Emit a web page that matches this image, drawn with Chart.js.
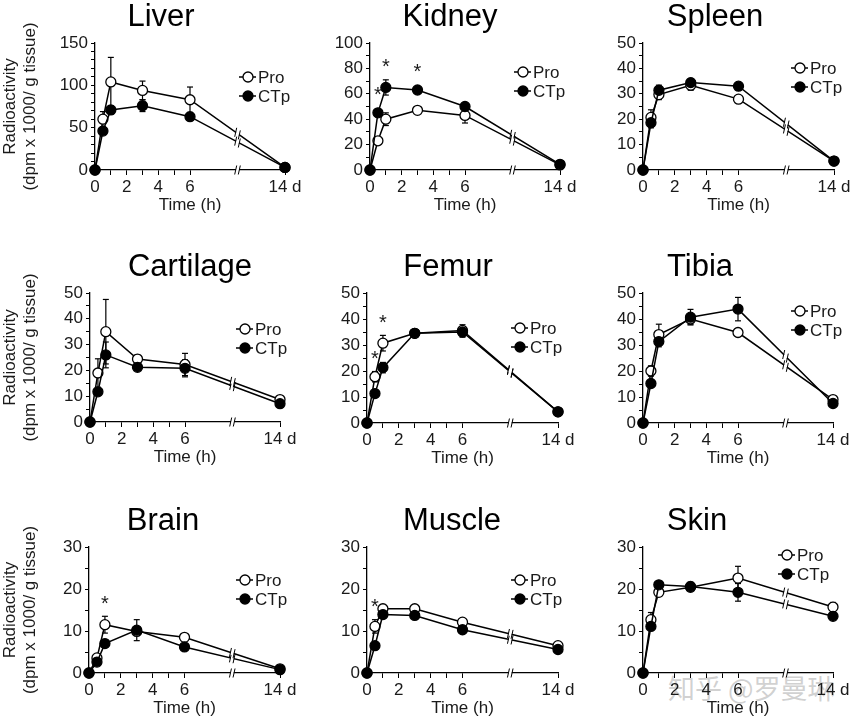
<!DOCTYPE html>
<html>
<head>
<meta charset="utf-8">
<script src="https://cdn.jsdelivr.net/npm/chart.js@4.4.1/dist/chart.umd.min.js"></script>
<style>
  html, body { margin: 0; padding: 0; background: #fff; overflow: hidden; }
  #page { position: relative; width: 850px; height: 720px; overflow: hidden; }
  #page canvas { position: absolute; }
  #wm { position: absolute; left: 668px; top: 668px; font: 27px "Noto Sans CJK SC", sans-serif;
        color: rgba(170, 170, 170, 0.55); white-space: nowrap; }
</style>
</head>
<body>
<div id="page"><div id="wm">知乎 @罗曼琳</div></div>
<script>
// sampling times (h); last slot is the 14 d sample, plotted after the axis break
const times = [0, 0.5, 1, 3, 6, 12];
const xTickValues = [0, 1, 2, 3, 4, 5, 6, 12];
const xTickLabels = ["0", "", "2", "", "4", "", "6", "14 d"];

// radioactivity (dpm x 1000 / g tissue), mean and SD
const liverPro = [0, 60, 104, 94, 83, 3];
const liverProSd = [0, 9, 29, 11, 15, 1];
const liverCTp = [0, 46, 71, 76, 63, 3];
const liverCTpSd = [0, 4, 5, 7, 3, 1];

const kidneyPro = [0, 23, 40, 47, 43, 4];
const kidneyProSd = [0, 2, 5, 2, 6, 1];
const kidneyCTp = [0, 45, 65, 63, 50, 4.5];
const kidneyCTpSd = [0, 3, 6, 2, 2, 1];

const spleenPro = [0, 20.7, 29.7, 33.4, 27.9, 3.5];
const spleenProSd = [0, 3, 2, 2, 1, 0.5];
const spleenCTp = [0, 18.6, 31.4, 34.4, 33, 3.5];
const spleenCTpSd = [0, 2, 2, 1.5, 1.5, 0.5];

const cartilagePro = [0, 19, 35, 24.4, 22.3, 8.7];
const cartilageProSd = [0, 5.5, 12.5, 1.6, 4.3, 0.5];
const cartilageCTp = [0, 11.7, 26, 21.2, 20.8, 7.1];
const cartilageCTpSd = [0, 1, 5, 1, 3.3, 0.5];

const femurPro = [0, 17.8, 30.7, 34.5, 35.6, 4.3];
const femurProSd = [0, 2, 3, 1, 2.2, 0.3];
const femurCTp = [0, 11.3, 21.3, 34.5, 35, 4.3];
const femurCTpSd = [0, 1, 2, 1, 2, 0.3];

const tibiaPro = [0, 20, 34, 40, 34.8, 9];
const tibiaProSd = [0, 2, 4, 2, 1, 0.5];
const tibiaCTp = [0, 15.2, 31.3, 40.7, 43.8, 7.5];
const tibiaCTpSd = [0, 1, 2, 3, 4.5, 0.5];

const brainPro = [0, 3.6, 11.5, 9.9, 8.5, 1.0];
const brainProSd = [0, 0.5, 2, 1, 0.5, 0.2];
const brainCTp = [0, 2.6, 7, 10.2, 6.2, 0.8];
const brainCTpSd = [0, 0.4, 0.6, 2.5, 0.5, 0.2];

const musclePro = [0, 11.1, 15.3, 15.3, 12.1, 6.5];
const muscleProSd = [0, 1.6, 1, 0.6, 0.8, 0.4];
const muscleCTp = [0, 6.5, 13.9, 13.7, 10.3, 5.6];
const muscleCTpSd = [0, 0.5, 0.6, 0.6, 0.6, 0.4];

const skinPro = [0, 12.7, 19.2, 20.4, 22.6, 15.7];
const skinProSd = [0, 1.7, 0.8, 0.8, 2.8, 1.1];
const skinCTp = [0, 11.1, 21, 20.6, 19.2, 13.5];
const skinCTpSd = [0, 0.6, 0.8, 1, 2.1, 0.5];

// time points marked significant (*)
const kidneySig = [0.5, 1, 3];
const femurSig = [0.5, 1];
const brainSig = [1];
const muscleSig = [0.5];

const FONT = '"Liberation Sans", Arial, Helvetica, sans-serif';
Chart.defaults.font.family = FONT;
Chart.defaults.color = "#1a1a1a";

// panel layout: chart-area edges, title centre and legend offset (page pixels)
const panels = [
  { title: "Liver", pro: liverPro, proSd: liverProSd, ctp: liverCTp, ctpSd: liverCTpSd, sig: [],
    yMax: 150, yStep: 10, yLabel: 50, col: 0, cl: 95, cr: 285, ct: 43, cb: 170, tx: 161, lx: -37, ly: 34 },
  { title: "Kidney", pro: kidneyPro, proSd: kidneyProSd, ctp: kidneyCTp, ctpSd: kidneyCTpSd, sig: kidneySig,
    yMax: 100, yStep: 10, yLabel: 20, col: 1, cl: 370, cr: 560, ct: 43, cb: 170, tx: 450, lx: -37, ly: 29 },
  { title: "Spleen", pro: spleenPro, proSd: spleenProSd, ctp: spleenCTp, ctpSd: spleenCTpSd, sig: [],
    yMax: 50, yStep: 5, yLabel: 10, col: 2, cl: 643, cr: 834, ct: 43, cb: 170, tx: 715, lx: -34, ly: 25 },
  { title: "Cartilage", pro: cartilagePro, proSd: cartilageProSd, ctp: cartilageCTp, ctpSd: cartilageCTpSd, sig: [],
    yMax: 50, yStep: 5, yLabel: 10, col: 0, cl: 90, cr: 280, ct: 293, cb: 422, tx: 190, lx: -35, ly: 36 },
  { title: "Femur", pro: femurPro, proSd: femurProSd, ctp: femurCTp, ctpSd: femurCTpSd, sig: femurSig,
    yMax: 50, yStep: 5, yLabel: 10, col: 1, cl: 367, cr: 558, ct: 293, cb: 423, tx: 448, lx: -38, ly: 35 },
  { title: "Tibia", pro: tibiaPro, proSd: tibiaProSd, ctp: tibiaCTp, ctpSd: tibiaCTpSd, sig: [],
    yMax: 50, yStep: 5, yLabel: 10, col: 2, cl: 643, cr: 833, ct: 293, cb: 423, tx: 700, lx: -33, ly: 18 },
  { title: "Brain", pro: brainPro, proSd: brainProSd, ctp: brainCTp, ctpSd: brainCTpSd, sig: brainSig,
    yMax: 30, yStep: 5, yLabel: 10, col: 0, cl: 89, cr: 280, ct: 547, cb: 673, tx: 163, lx: -35, ly: 33 },
  { title: "Muscle", pro: musclePro, proSd: muscleProSd, ctp: muscleCTp, ctpSd: muscleCTpSd, sig: muscleSig,
    yMax: 30, yStep: 5, yLabel: 10, col: 1, cl: 367, cr: 558, ct: 547, cb: 673, tx: 452, lx: -38, ly: 33 },
  { title: "Skin", pro: skinPro, proSd: skinProSd, ctp: skinCTp, ctpSd: skinCTpSd, sig: [],
    yMax: 30, yStep: 5, yLabel: 10, col: 2, cl: 643, cr: 833, ct: 547, cb: 673, tx: 697, lx: -46, ly: 8 },
];
const colLeft = [0, 320, 605];
const colWidth = [320, 285, 260];

function seg(ctx, x1, y1, x2, y2) {
  ctx.beginPath();
  ctx.moveTo(x1, y1);
  ctx.lineTo(x2, y2);
  ctx.stroke();
}

function drawBreak(ctx, px, py, slope) {
  // white gap in the line, then two short strokes
  ctx.strokeStyle = "#fff";
  ctx.lineWidth = 4;
  seg(ctx, px - 1.5, py - slope * 1.5, px + 1.5, py + slope * 1.5);
  ctx.strokeStyle = "#000";
  ctx.lineWidth = 1;
  [-1.8, 1.8].forEach(d => seg(ctx, px + d - 1, py + d * slope + 4.5, px + d + 1, py + d * slope - 4.5));
}

//Plugin: error bars, axis breaks, stars, titles and legends
const panelDecor = {
  id: "panelDecor",
  beforeDatasetsDraw(chart) {
    const { ctx, scales: { x, y } } = chart;
    ctx.save();
    ctx.strokeStyle = "#000";
    ctx.lineWidth = 1.2;
    chart.data.datasets.forEach(ds => {
      ds.data.forEach((pt, i) => {
        const sd = ds.sd[i];
        if (!sd) return;
        const px = x.getPixelForValue(pt.x);
        const top = y.getPixelForValue(pt.y + sd);
        const bot = y.getPixelForValue(pt.y - sd);
        seg(ctx, px, top, px, bot);
        seg(ctx, px - 3, top, px + 3, top);
        seg(ctx, px - 3, bot, px + 3, bot);
      });
    });
    ctx.restore();
  },
  afterDatasetsDraw(chart, args, opts) {
    const { ctx, scales: { x, y } } = chart;
    ctx.save();
    const xb = x.getPixelForValue(9);
    chart.data.datasets.forEach(ds => {
      const a = ds.data[4], b = ds.data[5];
      const ax = x.getPixelForValue(a.x), ay = y.getPixelForValue(a.y);
      const bx = x.getPixelForValue(b.x), by = y.getPixelForValue(b.y);
      const slope = (by - ay) / (bx - ax);
      drawBreak(ctx, xb, ay + (xb - ax) * slope, slope);
    });
    drawBreak(ctx, xb, y.bottom, 0);

    // significance stars
    ctx.fillStyle = "#1a1a1a";
    ctx.font = "20px " + FONT;
    ctx.textAlign = "center";
    ctx.textBaseline = "alphabetic";
    opts.sig.forEach(t => {
      const i = times.indexOf(t);
      let top = Infinity;
      chart.data.datasets.forEach(ds => {
        const v = ds.data[i].y;
        top = Math.min(top, y.getPixelForValue(v + ds.sd[i]), y.getPixelForValue(v) - 5);
      });
      ctx.fillText("*", x.getPixelForValue(t), top - 18 + 11.5);
    });
    ctx.restore();
  },
  afterDraw(chart, args, opts) {
    const { ctx, chartArea } = chart;
    ctx.save();
    ctx.fillStyle = "#000";
    ctx.font = "31px " + FONT;
    ctx.textAlign = "center";
    ctx.textBaseline = "alphabetic";
    ctx.fillText(opts.title, opts.tx, chartArea.top - 17);

    // legend: Pro then CTp
    let my = chartArea.top + opts.ly;
    const mx = chartArea.right + opts.lx;
    ctx.font = "17px " + FONT;
    ctx.textAlign = "left";
    ctx.textBaseline = "middle";
    chart.data.datasets.slice().reverse().forEach(ds => {
      ctx.strokeStyle = "#000";
      ctx.lineWidth = 1.5;
      seg(ctx, mx - 9, my, mx + 8, my);
      ctx.beginPath();
      ctx.arc(mx, my, 5, 0, Math.PI * 2);
      ctx.fillStyle = ds.pointBackgroundColor;
      ctx.fill();
      ctx.lineWidth = 1.3;
      ctx.stroke();
      ctx.fillStyle = "#1a1a1a";
      ctx.fillText(ds.label, mx + 10, my + 1);
      my += 19;
    });
    ctx.restore();
  },
};

function series(label, vals, sd, fill, order) {
  return {
    label,
    data: times.map((t, i) => ({ x: t, y: vals[i] })),
    sd,
    order,
    borderColor: "#000",
    borderWidth: 1.5,
    pointRadius: 5,
    pointBackgroundColor: fill,
    pointBorderColor: "#000",
    pointBorderWidth: 1.3,
    tension: 0,
    clip: false,
  };
}

function makeConfig(p, L, T, W) {
  return {
    type: "line",
    data: {
      datasets: [
        series("CTp", p.ctp, p.ctpSd, "#000", 0),
        series("Pro", p.pro, p.proSd, "#fff", 1),
      ],
    },
    options: {
      responsive: false,
      animation: false,
      layout: { padding: { left: 0, right: L + W - p.cr, top: p.ct - T, bottom: 2 } },
      plugins: {
        legend: { display: false },
        tooltip: { enabled: false },
        panelDecor: { title: p.title, tx: p.tx - L, lx: p.lx, ly: p.ly, sig: p.sig },
      },
      scales: {
        x: {
          type: "linear",
          min: 0,
          max: 12,
          afterBuildTicks(s) { s.ticks = xTickValues.map(v => ({ value: v })); },
          afterFit(s) { s.height = 48; },
          ticks: {
            autoSkip: false,
            maxRotation: 0,
            padding: 2,
            font: { size: 17 },
            callback: v => xTickLabels[xTickValues.indexOf(v)],
          },
          grid: { drawOnChartArea: false, drawTicks: true, tickLength: 5, tickColor: "#000" },
          border: { display: true, color: "#000", width: 1.3 },
          title: { display: true, text: "Time (h)", font: { size: 17 }, padding: { top: 0, bottom: 2 } },
        },
        y: {
          min: 0,
          max: p.yMax,
          afterFit(s) { s.width = p.cl - L; },
          ticks: {
            stepSize: p.yStep,
            autoSkip: false,
            padding: 3,
            font: { size: 17 },
            callback: v => (v % p.yLabel === 0 ? v : ""),
          },
          grid: { drawOnChartArea: false, drawTicks: true, tickLength: 4, tickColor: "#000" },
          border: { display: true, color: "#000", width: 1.3 },
          title: {
            display: p.col === 0,
            text: ["Radioactivity", "(dpm x 1000/ g tissue)"],
            font: { size: 17 },
            padding: { top: 0, bottom: 0 },
          },
        },
      },
    },
    plugins: [panelDecor],
  };
}

const page = document.getElementById("page");
panels.forEach(p => {
  const L = colLeft[p.col];
  const W = colWidth[p.col];
  const T = p.ct - 43;
  const H = p.cb - T + 50;
  const canvas = document.createElement("canvas");
  canvas.width = W;
  canvas.height = H;
  canvas.style.left = L + "px";
  canvas.style.top = T + "px";
  page.appendChild(canvas);
  new Chart(canvas, makeConfig(p, L, T, W));
});
</script>
</body>
</html>
